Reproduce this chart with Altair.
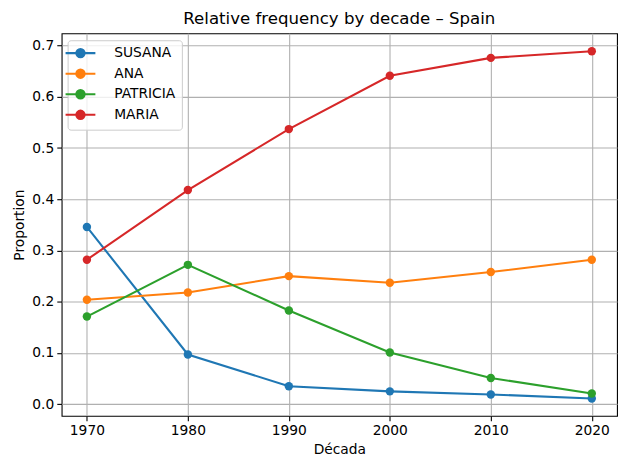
import altair as alt
import pandas as pd

decades = [1970, 1980, 1990, 2000, 2010, 2020]
names = ["SUSANA", "ANA", "PATRICIA", "MARIA"]
susana = [0.346, 0.097, 0.035, 0.025, 0.019, 0.011]
ana = [0.204, 0.218, 0.250, 0.237, 0.258, 0.282]
patricia = [0.171, 0.272, 0.183, 0.101, 0.051, 0.021]
maria = [0.282, 0.418, 0.537, 0.641, 0.676, 0.689]
colors = ["#1f77b4", "#ff7f0e", "#2ca02c", "#d62728"]

series = {"SUSANA": susana, "ANA": ana, "PATRICIA": patricia, "MARIA": maria}
rows = []
for i, n in enumerate(names):
    for d, v in zip(decades, series[n]):
        rows.append({"decade": d, "name": n, "value": v, "order": i})
df = pd.DataFrame(rows)

FONT = "DejaVu Sans"
color_scale = alt.Scale(domain=names, range=colors)
legend_path = "M-3,0L3,0M0.84,0A0.84,0.84,0,1,1,-0.84,0A0.84,0.84,0,1,1,0.84,0Z"

x = alt.X("decade:Q", title="Década",
          scale=alt.Scale(domain=[1967.5, 2022.5], nice=False, zero=False),
          axis=alt.Axis(values=decades, format="d", grid=True))
y = alt.Y("value:Q", title="Proportion",
          scale=alt.Scale(domain=[-0.0227, 0.724], nice=False, zero=False),
          axis=alt.Axis(values=[0, 0.1, 0.2, 0.3, 0.4, 0.5, 0.6, 0.7], format=".1f", grid=True))

color = alt.Color("name:N", scale=color_scale, title=None,
                  legend=alt.Legend(orient="none", legendX=6, legendY=7,
                                    symbolType=legend_path, symbolSize=100,
                                    symbolStrokeWidth=2.08, labelOffset=27,
                                    labelFontSize=13.9, labelFont=FONT, labelColor="black",
                                    fillColor="rgba(255,255,255,0.8)", strokeColor="#cccccc",
                                    cornerRadius=3, padding=6, rowPadding=2.7,
                                    symbolOpacity=1))

base = alt.Chart(df).encode(x=x, y=y, color=color, order="order:Q")
lines = base.mark_line(strokeWidth=2.08)
points = base.mark_point(filled=True, size=72, opacity=1, shape="circle")

chart = alt.layer(lines, points).properties(
    width=559, height=385,
    title=alt.TitleParams("Relative frequency by decade – Spain", font=FONT, fontSize=16.7,
                          fontWeight="normal", color="black", anchor="middle",
                          baseline="bottom", offset=5, dy=16),
    autosize=alt.AutoSizeParams(type="none"),
    padding={"left": 54, "top": 24, "right": 5, "bottom": 40},
).configure_view(stroke="black", strokeWidth=1.1).configure_axis(
    labelFont=FONT, labelFontSize=13.9, labelColor="black",
    titleFont=FONT, titleFontSize=13.9, titleFontWeight="normal", titleColor="black",
    tickColor="black", tickSize=4.9, tickWidth=1.1, labelPadding=3,
    domain=False, gridColor="#b0b0b0", gridWidth=1.1, titlePadding=5,
)

chart.save("out.html", embed_options={"renderer": "svg", "actions": False})
